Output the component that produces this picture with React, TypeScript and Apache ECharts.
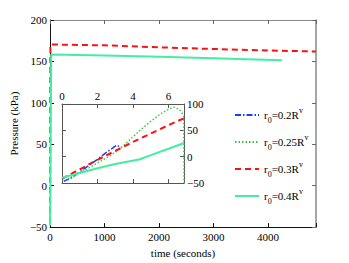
import React, { useEffect, useRef } from "react";
import * as echarts from "echarts";

const mainXTicks = [0, 1000, 2000, 3000, 4000];
const mainYTicks = [-50, 0, 50, 100, 150, 200];
const insetXTicks = [0, 2, 4, 6];
const insetYTicks = [-50, 0, 50, 100];

const seriesNames = ["r0=0.2Rv", "r0=0.25Rv", "r0=0.3Rv", "r0=0.4Rv"];
const legendLabels = ["0.2", "0.25", "0.3", "0.4"];

// main plot (time in seconds, pressure kPa)
const mainRed: [number, number][] = [[0, -45], [6, 170.5], [1000, 169.4], [2000, 167], [3000, 165], [4000, 163.2], [4880, 162]];
const mainMint: [number, number][] = [[0, -48], [20, 158.3], [1000, 157], [2000, 155.5], [3000, 153.8], [4255, 151.5]];

// inset
const insetBlue: [number, number][] = [[0.1, -47], [0.5, -40], [1, -29], [1.5, -17], [2, -5], [2.5, 8], [3, 20], [3.1, 22], [3.3, 17]];
const insetGreen: [number, number][] = [[0.3, -45], [1, -31], [2, -12], [3, 8], [3.5, 22], [4, 38], [4.5, 53], [5, 67], [5.5, 80], [6, 90], [6.3, 94], [6.6, 90], [6.85, 78], [6.87, -50]];
const insetRed: [number, number][] = [[0, -42], [1, -24], [2, -6], [3, 11], [4, 28], [5, 44], [6, 60], [6.87, 73]];
const insetMint: [number, number][] = [[0, -40], [1, -31], [2, -22], [3, -14], [4.4, -5], [5, 3], [6, 15], [6.87, 26]];

const FONT = "Liberation Serif";
const BLUE = "#1a3cff";
const GREEN = "#44c444";
const RED = "#ff1010";
const MINT = "#44eea0";

const fmt = (ticks: number[]) => (v: number) =>
  ticks.includes(Math.round(v * 1000) / 1000) ? (v < 0 ? "\u2212" + Math.abs(v) : String(v)) : "";

export default function App() {
  const ref = useRef<HTMLDivElement>(null);
  useEffect(() => {
    if (!ref.current) return;
    const chart = echarts.init(ref.current, undefined, { renderer: "svg" });
    const lbl = { fontFamily: FONT, fontSize: 11, color: "#000" };
    const tickIn = (color: string) => ({ show: true, inside: true, length: 4, lineStyle: { color } });
    const line = (color: string, width = 1) => ({ show: true, onZero: false, lineStyle: { color, width } });
    chart.setOption({
      animation: false,
      backgroundColor: "#fff",
      grid: [
        { left: 46, right: 33, top: 20, bottom: 30, containLabel: false },
        { left: 62, right: 165, top: 104, bottom: 80, containLabel: false },
      ],
      xAxis: [
        {
          gridIndex: 0, type: "value", min: 0, max: 4880, interval: 1000, position: "bottom",
          axisLine: line("#111"),
          axisTick: tickIn("#111"), splitLine: { show: false },
          axisLabel: { ...lbl, margin: 4, formatter: fmt(mainXTicks) },
          name: "time (seconds)", nameLocation: "middle", nameGap: 19,
          nameTextStyle: { fontFamily: FONT, fontSize: 11, color: "#000" },
        },
        {
          gridIndex: 0, type: "value", min: 0, max: 4880, interval: 1000, position: "top",
          axisLine: line("#888"),
          axisTick: tickIn("#666"), splitLine: { show: false }, axisLabel: { show: false },
        },
        {
          gridIndex: 1, type: "value", min: 0, max: 6.87, interval: 2, position: "top",
          axisLine: line("#555"),
          axisTick: tickIn("#555"), splitLine: { show: false },
          axisLabel: { ...lbl, margin: 3, formatter: fmt(insetXTicks) },
        },
        {
          gridIndex: 1, type: "value", min: 0, max: 6.87, interval: 2, position: "bottom",
          axisLine: line("#555"),
          axisTick: tickIn("#555"), splitLine: { show: false }, axisLabel: { show: false },
        },
      ],
      yAxis: [
        {
          gridIndex: 0, type: "value", min: -50, max: 200, interval: 50, position: "left",
          axisLine: line("#111"),
          axisTick: tickIn("#111"), splitLine: { show: false },
          axisLabel: { ...lbl, margin: 3, formatter: fmt(mainYTicks) },
          name: "Pressure (kPa)", nameLocation: "middle", nameGap: 27, nameRotate: 90,
          nameTextStyle: { fontFamily: FONT, fontSize: 11, color: "#000" },
        },
        {
          gridIndex: 0, type: "value", min: -50, max: 200, interval: 50, position: "right",
          axisLine: line("#888", 1.5),
          axisTick: tickIn("#666"), splitLine: { show: false }, axisLabel: { show: false },
        },
        {
          gridIndex: 1, type: "value", min: -50, max: 100, interval: 50, position: "right",
          axisLine: line("#555"),
          axisTick: tickIn("#555"), splitLine: { show: false },
          axisLabel: { ...lbl, margin: 3, formatter: fmt(insetYTicks) },
        },
        {
          gridIndex: 1, type: "value", min: -50, max: 100, interval: 50, position: "left",
          axisLine: line("#555"),
          axisTick: tickIn("#555"), splitLine: { show: false }, axisLabel: { show: false },
        },
      ],
      legend: {
        show: true, orient: "vertical", left: 229, top: 101, itemWidth: 24, itemHeight: 10, itemGap: 9,
        data: seriesNames,
        itemStyle: { opacity: 0 },
        formatter: (name: string) => {
          const i = seriesNames.indexOf(name);
          return `{a|r}{s|0}{a|=${legendLabels[i]}R}{p|v}`;
        },
        textStyle: {
          fontFamily: FONT, fontSize: 11, color: "#000",
          rich: {
            a: { fontFamily: FONT, fontSize: 11, lineHeight: 18, verticalAlign: "middle" },
            s: { fontFamily: FONT, fontSize: 8, lineHeight: 18, verticalAlign: "bottom" },
            p: { fontFamily: FONT, fontSize: 8, lineHeight: 18, verticalAlign: "top" },
          },
        },
      },
      series: [
        {
          name: seriesNames[0], type: "line", xAxisIndex: 2, yAxisIndex: 2, data: insetBlue,
          symbol: "none", lineStyle: { color: BLUE, width: 1.5, type: [6, 2, 1.5, 2] }, itemStyle: { color: BLUE },
        },
        {
          name: seriesNames[1], type: "line", xAxisIndex: 2, yAxisIndex: 2, data: insetGreen,
          symbol: "none", lineStyle: { color: GREEN, width: 1.5, type: [1.5, 2] }, itemStyle: { color: GREEN },
        },
        {
          name: seriesNames[2], type: "line", xAxisIndex: 0, yAxisIndex: 0, data: mainRed,
          symbol: "none", lineStyle: { color: RED, width: 2, type: [6, 4] }, itemStyle: { color: RED },
        },
        {
          name: seriesNames[3], type: "line", xAxisIndex: 0, yAxisIndex: 0, data: mainMint,
          symbol: "none", lineStyle: { color: MINT, width: 2, type: "solid" }, itemStyle: { color: MINT },
        },
        {
          name: seriesNames[2], type: "line", xAxisIndex: 2, yAxisIndex: 2, data: insetRed,
          symbol: "none", lineStyle: { color: RED, width: 2, type: [6, 4] }, itemStyle: { color: RED },
        },
        {
          name: seriesNames[3], type: "line", xAxisIndex: 2, yAxisIndex: 2, data: insetMint,
          symbol: "none", lineStyle: { color: MINT, width: 2, type: "solid" }, itemStyle: { color: MINT },
        },
      ],
    });
    return () => chart.dispose();
  }, []);
  return (
    <div
      ref={ref}
      style={{ position: "fixed", left: 0, top: 0, width: 349, height: 263, background: "#fff" }}
    />
  );
}
